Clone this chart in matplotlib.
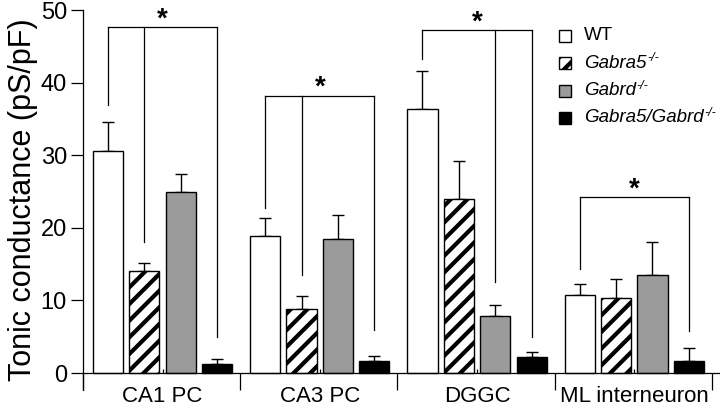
import matplotlib
matplotlib.use('Agg')
import matplotlib.pyplot as plt
from matplotlib.patches import Rectangle
import numpy as np

plt.rcParams['font.family'] = 'Liberation Sans'
plt.rcParams['hatch.linewidth'] = 3.0

# data
regions = ['CA1 PC', 'CA3 PC', 'DGGC', 'ML interneuron']
genotypes = ['WT', 'Gabra5', 'Gabrd', 'Gabra5/Gabrd']
wt = [30.6, 18.9, 36.3, 10.8]
wt_err = [4.0, 2.5, 5.3, 1.4]
a5 = [14.1, 8.8, 24.0, 10.4]
a5_err = [1.1, 1.8, 5.2, 2.5]
delta = [24.9, 18.4, 7.9, 13.5]
delta_err = [2.5, 3.4, 1.4, 4.5]
dko = [1.2, 1.6, 2.2, 1.6]
dko_err = [0.7, 0.8, 0.7, 1.8]

# significance brackets: bars joined, bracket height, where each leg stops
sig_bars = [[0, 1, 3], [0, 1, 3], [0, 2, 3], [0, 3]]
sig_top = [47.6, 38.2, 47.2, 24.2]
sig_ends = [[36.9, 18.1, 5.0], [22.7, 13.5, 5.9], [43.2, 12.6, 5.0], [14.3, 5.8]]

means = [wt, a5, delta, dko]
errs = [wt_err, a5_err, delta_err, dko_err]
colors = ['white', 'white', '#9b9b9b', 'black']
hatches = [None, '//', None, None]

G = 4.32       # width of one region block
off = 0.685    # first bar offset in a block
w = 0.83

fig = plt.figure(figsize=(7.2, 4.11), dpi=100)
ax = fig.add_axes([83/720, 21/411, 637/720, 380/411])

for i in range(4):
    x = np.arange(4) * G + off + i
    ax.bar(x, means[i], width=w, color=colors[i], edgecolor='black',
           linewidth=1.0, hatch=hatches[i], zorder=2)
    ax.errorbar(x, means[i], yerr=[np.zeros(4), errs[i]], fmt='none',
                ecolor='black', elinewidth=1.0, capsize=4.5, capthick=1.0, zorder=1)

for g in range(4):
    xs = [g * G + off + j for j in sig_bars[g]]
    ax.plot([xs[0], xs[-1]], [sig_top[g], sig_top[g]], color='black', lw=0.9)
    for xx, yy in zip(xs, sig_ends[g]):
        ax.plot([xx, xx], [yy, sig_top[g]], color='black', lw=0.9)
    ax.text(g * G + off + 1.5, sig_top[g] + 0.15, '*', ha='center', va='baseline',
            fontsize=20, fontweight='bold')

ax.set_xlim(0, 637 / 36.4)
ax.set_ylim(-2.34, 50)
ax.set_yticks([0, 10, 20, 30, 40, 50])
ax.tick_params(axis='y', labelsize=17, length=8.6, width=0.9, pad=3)
ax.set_ylabel('Tonic conductance (pS/pF)', fontsize=22, labelpad=2)

ax.spines['top'].set_visible(False)
ax.spines['right'].set_visible(False)
ax.spines['bottom'].set_position(('data', 0))
ax.spines['left'].set_bounds(-2.34, 50)
for s in ['left', 'bottom']:
    ax.spines[s].set_linewidth(0.9)

ax.set_xticks(np.arange(5) * G)
ax.set_xticklabels([])
ax.tick_params(axis='x', which='major', length=12, width=0.9, direction='out')
ax.set_xticks(np.arange(4) * G + off + 1.5, minor=True)
ax.set_xticklabels(regions, minor=True, fontsize=16)
ax.tick_params(axis='x', which='minor', length=3, width=0.9, direction='in', pad=9)

# legend drawn by hand so the -/- superscripts look right
fig.canvas.draw()
renderer = fig.canvas.get_renderer()
W, H = 720.0, 411.0
for r in range(4):
    yc = 36 + 27.3 * r
    fig.add_artist(Rectangle((559 / W, (H - yc - 6) / H), 12 / W, 12 / H,
                             transform=fig.transFigure, facecolor=colors[r],
                             edgecolor='black', linewidth=1.0, hatch=hatches[r]))
    style = 'normal' if r == 0 else 'italic'
    t = fig.text(584 / W, (H - yc) / H, genotypes[r], fontsize=13.5,
                 style=style, va='center', ha='left')
    if r > 0:
        bb = t.get_window_extent(renderer)
        fig.text((bb.x1 + 0.5) / W, (H - yc + 5) / H, '-/-', fontsize=9,
                 style='italic', va='center', ha='left')

plt.savefig('out.png', dpi=100)
